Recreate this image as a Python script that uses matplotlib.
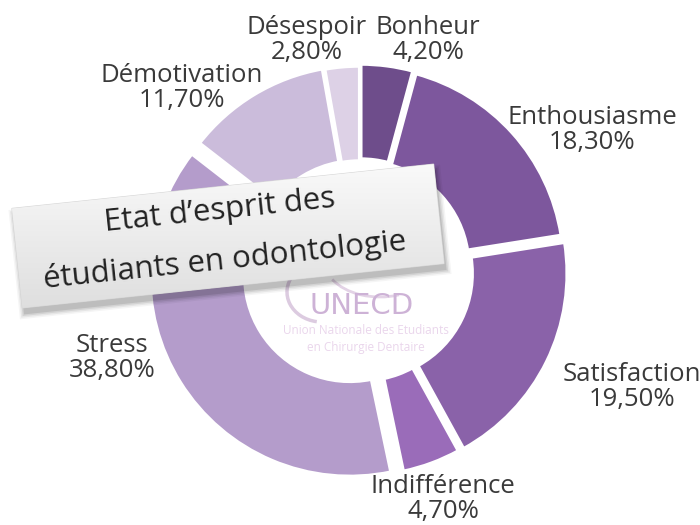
import numpy as np
import matplotlib.pyplot as plt
from matplotlib.patches import Polygon, Arc
from matplotlib.colors import LinearSegmentedColormap

plt.rcParams['font.family'] = ['Open Sans', 'DejaVu Sans']

## Data
labels = ["Bonheur", "Enthousiasme", "Satisfaction", "Indifférence",
          "Stress", "Démotivation", "Désespoir"]
values = [4.2, 18.3, 19.5, 4.7, 38.8, 11.7, 2.8]
colors = ["#6e4d8b", "#7d579d", "#8a62a9", "#9a6cb9",
          "#b49ccb", "#cbbcdb", "#ddd1e6"]
title_lines = ["Etat d\u2019esprit des", "étudiants en odontologie"]

## Layout (pixel coords, y measured from the top of the picture)
W, H = 700, 525
center = (360, 270)
radius = 200
ring = 95
explode = [6, 5, 8, 6, 12, 5, 4]
label_pos = [(428, 40), (592, 130), (632, 387), (443, 499),
             (112, 358), (182, 88), (307, 40)]

fig = plt.figure(figsize=(7, 5.25), dpi=100)
ax = fig.add_axes([0, 0, 1, 1])

def Y(y):
    return H - y

## Donut
ax.pie(values, colors=colors, startangle=90, counterclock=False,
       center=(center[0], Y(center[1])), radius=radius, explode=explode,
       wedgeprops=dict(width=ring, edgecolor="white", linewidth=2.5),
       frame=True)

## Slice labels
for name, v, (x, y) in zip(labels, values, label_pos):
    pct = ("%.2f" % v).replace(".", ",") + "%"
    ax.text(x, Y(y), name + "\n" + pct, ha="center", va="center",
            fontsize=18.5, color="#3a3a3a", linespacing=1.0)

## Faded logo in the hole
ax.add_patch(Arc((322, Y(292)), 70, 60, theta1=150, theta2=260,
                 color="#dccbe0", lw=2.5))
ax.add_patch(Arc((380, Y(262)), 110, 70, theta1=200, theta2=300,
                 color="#e3d3e6", lw=2))
ax.text(362, Y(306), "UNECD", ha="center", va="center", fontsize=21,
        color="#cdb2d6", fontfamily="DejaVu Sans")
ax.text(366, Y(330), "Union Nationale des Etudiants", ha="center",
        va="center", fontsize=8.5, color="#ead6ec")
ax.text(366, Y(347), "en Chirurgie Dentaire", ha="center",
        va="center", fontsize=8.5, color="#ead6ec")

## Title box, rotated, with soft shadow
bx, by = 228, 236
bw, bh = 424, 100
ang = 6.0
t = np.radians(ang)
u = np.array([np.cos(t), np.sin(t)])
v = np.array([-np.sin(t), np.cos(t)])

def corners(cx, cy, w, h):
    c = np.array([cx, cy])
    return [c - w / 2 * u - h / 2 * v, c + w / 2 * u - h / 2 * v,
            c + w / 2 * u + h / 2 * v, c - w / 2 * u + h / 2 * v]

for i, a in enumerate([0.04, 0.06, 0.08, 0.10]):
    g = 10 - 3 * i
    ax.add_patch(Polygon(corners(bx + 2, Y(by) - 6, bw + g, bh + g),
                         closed=True, facecolor="black", edgecolor="none",
                         alpha=a, zorder=5))
box = Polygon(corners(bx, Y(by), bw, bh), closed=True, facecolor="#eeeeee",
              edgecolor="#d6d6d6", lw=0.8, zorder=6)
ax.add_patch(box)
grad = np.linspace(0, 1, 256).reshape(-1, 1)
cmap = LinearSegmentedColormap.from_list("g", ["#dedede", "#fafafa"])
im = ax.imshow(grad, cmap=cmap, origin="lower", aspect="auto", zorder=7,
               extent=(bx - 240, bx + 240, Y(by) - 75, Y(by) + 75))
im.set_clip_path(box)

# line centres sit either side of the box's long axis
for k, line in enumerate(title_lines):
    p = np.array([bx - 6, Y(by)]) + (25 - 50 * k) * v
    ax.text(p[0], p[1], line, ha="center", va="center", fontsize=22.5,
            color="#222222", rotation=ang, rotation_mode="anchor", zorder=8)

ax.set_xlim(0, W)
ax.set_ylim(0, H)
ax.set_aspect("equal")
ax.axis("off")

fig.savefig("out.png", dpi=100)
